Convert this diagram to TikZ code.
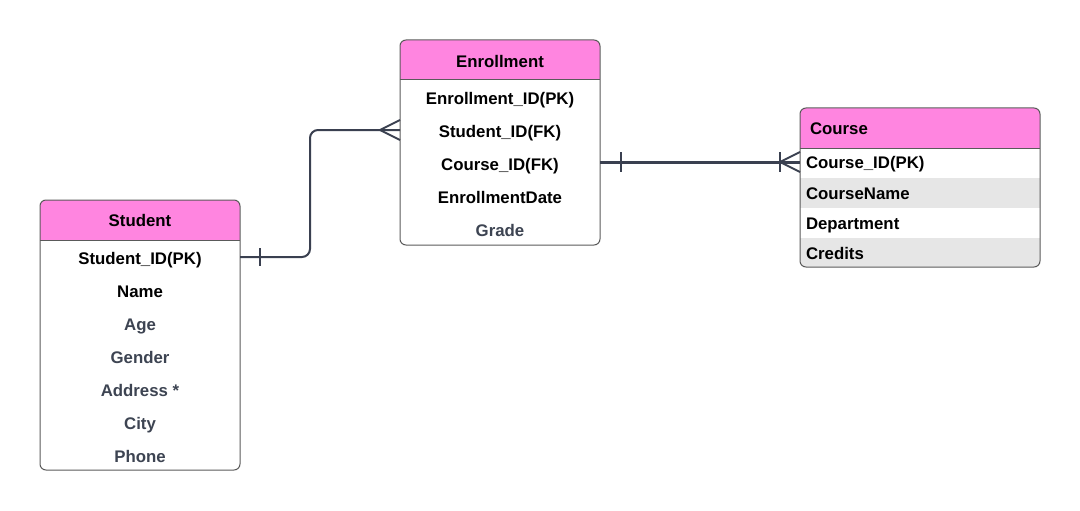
\documentclass[tikz,border=0pt]{standalone}
\usepackage{fontspec}
\setmainfont{Liberation Sans}
\usepackage{tikz}
\usetikzlibrary{positioning,calc}
\definecolor{headerpink}{RGB}{255,133,224}
\definecolor{boxgrey}{RGB}{90,90,90}
\definecolor{linkgrey}{RGB}{58,64,80}
\definecolor{attrgrey}{RGB}{61,68,82}
\definecolor{rowgrey}{RGB}{230,230,230}

\begin{document}
\begin{tikzpicture}[
        x=1pt, y=-1pt,
        entity/.style={inner sep=0pt, outer sep=0pt},
        frame/.style={draw=boxgrey, line width=1pt, rounded corners=6pt},
        title/.style={font=\fontsize{16.8}{19}\selectfont\bfseries, text=black, inner sep=0pt, outer sep=0pt, text height=12pt, text depth=0pt},
        attr/.style={font=\fontsize{16.8}{19}\selectfont\bfseries, text=black, inner sep=0pt, outer sep=0pt, text height=12pt, text depth=0pt},
        minor/.style={attr, text=attrgrey},
        link/.style={draw=linkgrey, line width=2pt}
    ]
        \useasboundingbox (0,0) rectangle (1080,511);

        % Student
        \node[entity, minimum width=200pt, minimum height=270pt, anchor=north west] (student) at (40,200) {};
        \begin{scope}
            \clip[rounded corners=6pt] (student.north west) rectangle (student.south east);
            \fill[white] (student.north west) rectangle (student.south east);
            \fill[headerpink] (student.north west) rectangle ($(student.north east)+(0,40)$);
        \end{scope}
        \draw[boxgrey, line width=1pt] ($(student.north west)+(0,40)$) -- ($(student.north east)+(0,40)$);
        \draw[frame] (student.north west) rectangle (student.south east);
        \node[title] (student-title) at ($(student.north)+(0,20)$) {Student};
        \node[attr] (stu-id) at ($(student.north)+(0,58)$) {Student\_ID(PK)};
        \node[attr, below=21pt of stu-id] (stu-name) {Name};
        \node[minor, below=21pt of stu-name] (stu-age) {Age};
        \node[minor, below=21pt of stu-age] (stu-gender) {Gender};
        \node[minor, below=21pt of stu-gender] (stu-address) {Address *};
        \node[minor, below=21pt of stu-address] (stu-city) {City};
        \node[minor, below=21pt of stu-city] (stu-phone) {Phone};

        % Enrollment
        \node[entity, minimum width=200pt, minimum height=205pt, anchor=north west] (enrollment) at (400,40) {};
        \begin{scope}
            \clip[rounded corners=6pt] (enrollment.north west) rectangle (enrollment.south east);
            \fill[white] (enrollment.north west) rectangle (enrollment.south east);
            \fill[headerpink] (enrollment.north west) rectangle ($(enrollment.north east)+(0,40)$);
        \end{scope}
        \draw[boxgrey, line width=1pt] ($(enrollment.north west)+(0,40)$) -- ($(enrollment.north east)+(0,40)$);
        \draw[frame] (enrollment.north west) rectangle (enrollment.south east);
        \node[title] (enrollment-title) at ($(enrollment.north)+(0,21)$) {Enrollment};
        \node[attr] (enr-id) at ($(enrollment.north)+(0,58)$) {Enrollment\_ID(PK)};
        \node[attr, below=21pt of enr-id] (enr-sid) {Student\_ID(FK)};
        \node[attr, below=21pt of enr-sid] (enr-cid) {Course\_ID(FK)};
        \node[attr, below=21pt of enr-cid] (enr-date) {EnrollmentDate};
        \node[minor, below=21pt of enr-date] (enr-grade) {Grade};

        % Course
        \node[entity, minimum width=240pt, minimum height=159pt, anchor=north west] (course) at (800,108) {};
        \begin{scope}
            \clip[rounded corners=6pt] (course.north west) rectangle (course.south east);
            \fill[white] (course.north west) rectangle (course.south east);
            \fill[headerpink] (course.north west) rectangle ($(course.north east)+(0,40)$);
            \fill[rowgrey] ($(course.north west)+(0,70)$) rectangle ($(course.north east)+(0,100)$);
            \fill[rowgrey] ($(course.north west)+(0,130)$) rectangle (course.south east);
        \end{scope}
        \draw[boxgrey, line width=1pt] ($(course.north west)+(0,40)$) -- ($(course.north east)+(0,40)$);
        \draw[frame] (course.north west) rectangle (course.south east);
        \node[title, anchor=west] (course-title) at ($(course.north west)+(10,20)$) {Course};
        \node[attr, anchor=west] (crs-id) at ($(course.north west)+(6,54)$) {Course\_ID(PK)};
        \node[attr, anchor=west] (crs-name) at ($(course.north west)+(6,85)$) {CourseName};
        \node[attr, anchor=west] (crs-dept) at ($(course.north west)+(6,115)$) {Department};
        \node[attr, anchor=west] (crs-credits) at ($(course.north west)+(6,145)$) {Credits};

        % Student -- Enrollment
        \coordinate (stu-end) at ($(student.east |- stu-id)+(0,-1)$);
        \coordinate (enr-end) at ($(enrollment.west |- enr-sid)+(0,-1)$);
        \draw[link, rounded corners=8pt] (stu-end) -- ++(70,0) |- (enr-end);
        \draw[link] ($(stu-end)+(20,-9)$) -- ++(0,18);
        \draw[link] ($(enr-end)+(0,-10)$) -- ($(enr-end)+(-20,0)$) -- ($(enr-end)+(0,10)$);

        % Enrollment -- Course
        \coordinate (crs-end) at (course.west |- crs-id);
        \coordinate (enr-start) at (enrollment.east |- crs-id);
        \draw[link, line width=3pt] (enr-start) -- (crs-end);
        \draw[link] ($(enr-start)+(21,-10)$) -- ++(0,20);
        \draw[link] ($(crs-end)+(-20,-10)$) -- ++(0,20);
        \draw[link] ($(crs-end)+(0,-10)$) -- ($(crs-end)+(-20,0)$) -- ($(crs-end)+(0,10)$);

\end{tikzpicture}
\end{document}
